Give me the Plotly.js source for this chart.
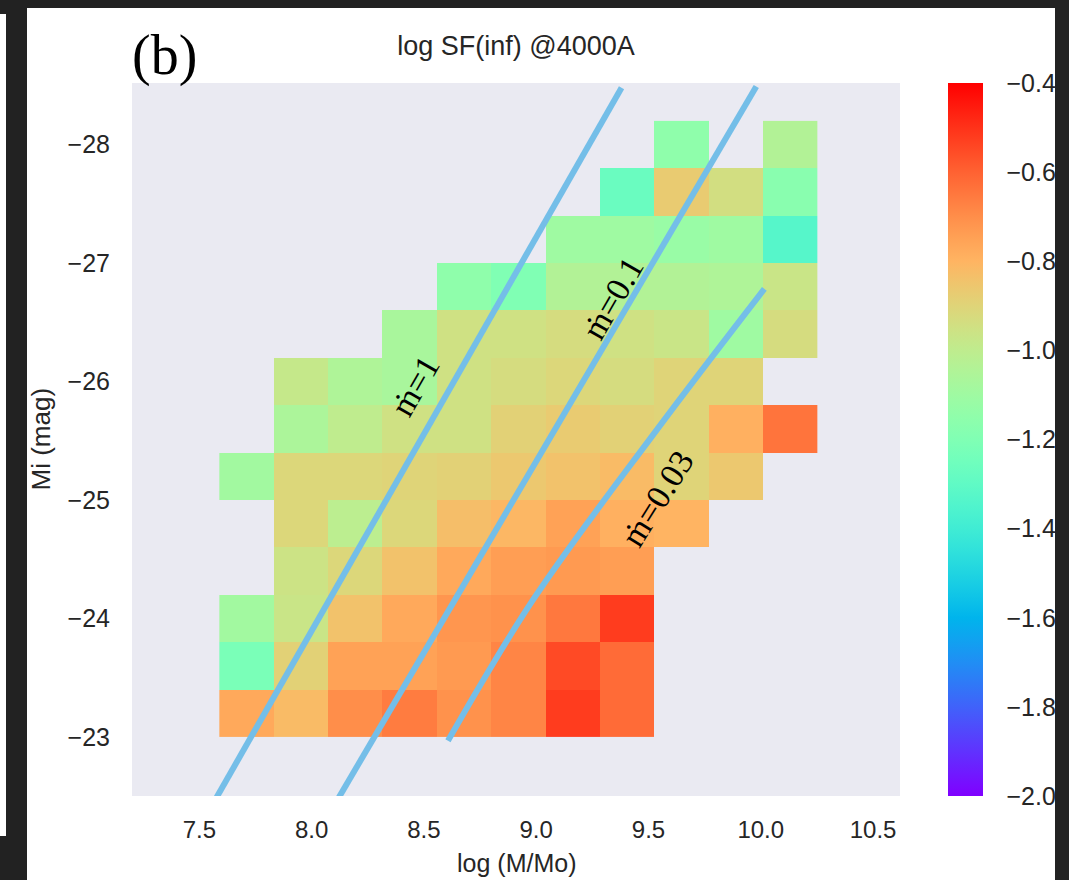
<!DOCTYPE html>
<html>
<head>
<meta charset="utf-8">
<script src="https://cdn.plot.ly/plotly-3.0.1.min.js"></script>
<style>
  html, body { margin: 0; padding: 0; background: #ffffff; }
  #wrap { position: relative; width: 1069px; height: 880px; overflow: hidden; }
  #chart { position: absolute; left: 0; top: 0; width: 1069px; height: 880px; }
  .bar { position: absolute; background: #222222; z-index: 10; }
  .wbar { position: absolute; background: #ffffff; z-index: 11; }
</style>
</head>
<body>
<div id="wrap">
  <div id="chart"></div>
  <div class="bar" style="left:0;top:0;width:1069px;height:8px;"></div>
  <div class="bar" style="left:0;top:0;width:27px;height:880px;"></div>
  <div class="wbar" style="left:0;top:14px;width:6px;height:822px;"></div>
  <div class="bar" style="left:1055px;top:0;width:14px;height:880px;"></div>
</div>
<script>
// ---- data ----
const massCenters = [7.71, 7.952, 8.194, 8.436, 8.678, 8.92, 9.162, 9.404, 9.646, 9.888, 10.13];
const magCenters = [-23.2, -23.6, -24.0, -24.4, -24.8, -25.2, -25.6, -26.0, -26.4, -26.8, -27.2, -27.6, -28.0];

const sfRow0  = [-0.77, -0.82, -0.70, -0.66, -0.71, -0.68, -0.52, -0.62, null, null, null];
const sfRow1  = [-1.22, -0.89, -0.75, -0.75, -0.73, -0.68, -0.55, -0.62, null, null, null];
const sfRow2  = [-1.09, -0.97, -0.84, -0.77, -0.72, -0.71, -0.65, -0.52, null, null, null];
const sfRow3  = [null, -0.96, -0.91, -0.84, -0.77, -0.74, -0.73, -0.74, null, null, null];
const sfRow4  = [null, -0.91, -1.01, -0.91, -0.83, -0.81, -0.75, -0.79, -0.80, null, null];
const sfRow5  = [-1.09, -0.91, -0.91, -0.90, -0.89, -0.86, -0.84, -0.82, -0.90, -0.86, null];
const sfRow6  = [null, -1.06, -1.00, -0.95, -0.95, -0.89, -0.87, -0.89, -0.90, -0.79, -0.64];
const sfRow7  = [null, -0.98, -1.05, -1.07, -0.95, -0.93, -0.91, -0.93, -0.90, -0.90, null];
const sfRow8  = [null, null, null, -1.07, -0.95, -0.95, -0.93, -0.95, -0.97, -1.10, -0.93];
const sfRow9  = [null, null, null, null, -1.15, -1.20, -1.04, -1.04, -1.04, -1.05, -0.97];
const sfRow10 = [null, null, null, null, null, null, -1.10, -1.10, -1.12, -1.10, -1.33];
const sfRow11 = [null, null, null, null, null, null, null, -1.27, -0.87, -0.94, -1.17];
const sfRow12 = [null, null, null, null, null, null, null, null, -1.15, null, -1.04];

const line1X = [7.52, 9.38];
const line1Y = [-22.30, -28.48];
const line2X = [8.063, 9.98];
const line2Y = [-22.30, -28.49];
const line3X = [8.607, 8.984, 9.536, 10.016];
const line3Y = [-22.966, -24.151, -25.589, -26.782];

const labelTexts = ['ṁ=1', 'ṁ=0.1', 'ṁ=0.03'];
const labelX = [8.46, 9.34, 9.54];
const labelY = [-25.97, -26.70, -25.01];
const labelAngle = [-60, -60, -58];

const xTicks = [7.5, 8.0, 8.5, 9.0, 9.5, 10.0, 10.5];
const yTicks = [-28, -27, -26, -25, -24, -23];
const cbTicks = [-2.0, -1.8, -1.6, -1.4, -1.2, -1.0, -0.8, -0.6, -0.4];

// ---- matplotlib "rainbow" colormap ----
const rainbow = [];
for (let i = 0; i <= 32; i++) {
  const t = i / 32;
  const r = Math.min(1, Math.abs(2 * t - 0.5));
  const g = Math.sin(Math.PI * t);
  const b = Math.cos(Math.PI * t / 2);
  rainbow.push([t, 'rgb(' + Math.round(r * 255) + ',' + Math.round(g * 255) + ',' + Math.round(b * 255) + ')']);
}

const z = [sfRow0, sfRow1, sfRow2, sfRow3, sfRow4, sfRow5, sfRow6, sfRow7, sfRow8, sfRow9, sfRow10, sfRow11, sfRow12];

const sans = 'Liberation Sans, Arial, sans-serif';
const serif = 'Liberation Serif, DejaVu Serif, Times New Roman, serif';
const txt = '#262626';
const lineColor = '#74bee8';

const traces = [
  {
    type: 'heatmap', x: massCenters, y: magCenters, z: z,
    zmin: -2.0, zmax: -0.4, colorscale: rainbow, hoverongaps: false,
    colorbar: {
      x: (948 - 132) / 768, xanchor: 'left', xpad: 0, ypad: 0,
      y: 0.5, yanchor: 'middle', len: 1, lenmode: 'fraction',
      thickness: 35, outlinewidth: 0,
      tickvals: cbTicks, tickformat: '.1f',
      ticks: 'outside', ticklen: 19, tickcolor: 'rgba(0,0,0,0)',
      tickfont: { family: sans, size: 25, color: txt }
    }
  },
  { type: 'scatter', mode: 'lines', x: line1X, y: line1Y, line: { color: lineColor, width: 6 }, showlegend: false },
  { type: 'scatter', mode: 'lines', x: line2X, y: line2Y, line: { color: lineColor, width: 6 }, showlegend: false },
  { type: 'scatter', mode: 'lines', x: line3X, y: line3Y, line: { color: lineColor, width: 6, shape: 'spline' }, showlegend: false }
];

const annotations = labelTexts.map((t, i) => ({
  text: t, x: labelX[i], y: labelY[i], xref: 'x', yref: 'y',
  showarrow: false, textangle: labelAngle[i],
  font: { family: serif, size: 34, color: '#000000' }
}));
annotations.push({
  text: '(b)', xref: 'paper', yref: 'paper', x: -0.003, y: (796 - 56) / 713,
  xanchor: 'left', yanchor: 'middle', showarrow: false,
  font: { family: serif, size: 56, color: '#000000' }
});
annotations.push({
  text: 'log (M/Mo)', xref: 'paper', yref: 'paper', x: 0.5, y: -(863 - 796) / 713,
  xanchor: 'center', yanchor: 'middle', showarrow: false,
  font: { family: sans, size: 25, color: txt }
});
annotations.push({
  text: 'Mi (mag)', xref: 'paper', yref: 'paper', x: -(132 - 40) / 768, y: 0.5,
  xanchor: 'center', yanchor: 'middle', showarrow: false, textangle: -90,
  font: { family: sans, size: 26, color: txt }
});

const layout = {
  width: 1069, height: 880,
  margin: { l: 132, r: 169, t: 83, b: 84 },
  paper_bgcolor: '#ffffff', plot_bgcolor: '#eaeaf2',
  showlegend: false,
  title: {
    text: 'log SF(inf) @4000A', x: 0.5, xref: 'paper', xanchor: 'center',
    y: 1 - 46 / 880, yref: 'container', yanchor: 'middle',
    font: { family: sans, size: 27, color: txt }
  },
  xaxis: {
    range: [7.2, 10.62], tickvals: xTicks, tickformat: '.1f',
    showgrid: false, zeroline: false, showline: false,
    ticks: 'outside', ticklen: 12, tickcolor: 'rgba(0,0,0,0)',
    tickfont: { family: sans, size: 24, color: txt }
  },
  yaxis: {
    range: [-22.5, -28.52], tickvals: yTicks,
    showgrid: false, zeroline: false, showline: false,
    ticks: 'outside', ticklen: 16, tickcolor: 'rgba(0,0,0,0)',
    tickfont: { family: sans, size: 25, color: txt }
  },
  annotations: annotations
};

Plotly.newPlot('chart', traces, layout, { displayModeBar: false, staticPlot: true });
</script>
</body>
</html>
